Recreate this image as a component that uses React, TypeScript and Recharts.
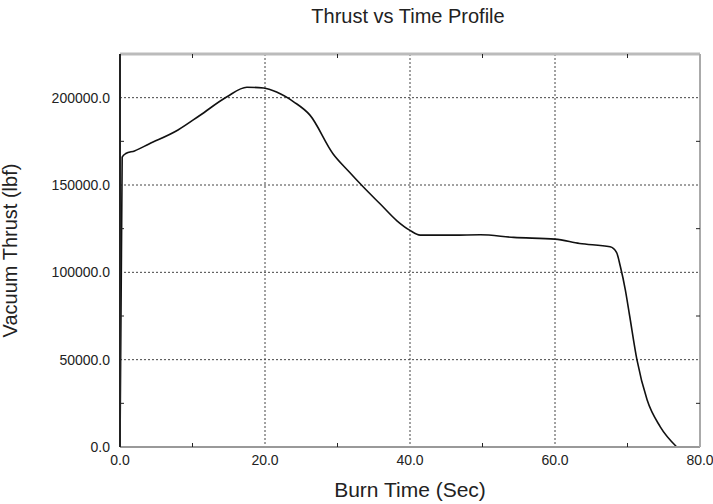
import React from 'react';
import { LineChart, Line, XAxis, YAxis, CartesianGrid, Label } from 'recharts';

const burnTime = [0, 0.3, 0.8, 2, 4, 8, 11, 14.7, 17.5, 19.8, 21.6, 24, 26.2, 29.4, 31.5, 33.6, 35.9, 38.2, 40, 41.4, 46, 49.7, 54.3, 60, 63.4, 67.6, 68.5, 69, 69.7, 70.3, 71.3, 72.7, 74.5, 76.8];
const thrust = [0, 166000, 168000, 169500, 173500, 181500, 189800, 200400, 206000, 205500, 203200, 197500, 190000, 167800, 158000, 148700, 139100, 129500, 124000, 121300, 121300, 121500, 120000, 119000, 116500, 114600, 111300, 103600, 90000, 75000, 50000, 27000, 11700, 0];

const xMajorTicks = [0, 20, 40, 60, 80];
const xMinorTicks = [10, 30, 50, 70];
const yMajorTicks = [0, 50000, 100000, 150000, 200000];
const yMinorTicks = [25000, 75000, 125000, 175000];

const title = 'Thrust vs Time Profile';
const xLabel = 'Burn Time (Sec)';
const yLabel = 'Vacuum Thrust (lbf)';

const data = burnTime.map((t, i) => ({ t, v: thrust[i] }));

const FONT = '"Liberation Sans", Arial, sans-serif';
const blank = () => '';

export default function App() {
  return (
    <div style={{ position: 'absolute', left: 0, top: 0, width: 713, height: 504, background: '#fff', fontFamily: FONT }}>
      <div style={{ position: 'absolute', top: 5, left: 0, width: 816, textAlign: 'center', fontSize: 20, color: '#222' }}>{title}</div>
      <LineChart width={713} height={504} data={data} margin={{ top: 54, right: 13, bottom: 27, left: 0 }}>
        <CartesianGrid stroke="#444" strokeDasharray="2 2" strokeWidth={1} />
        <XAxis
          dataKey="t"
          type="number"
          domain={[0, 80]}
          ticks={xMajorTicks}
          tickFormatter={(v: number) => v.toFixed(1)}
          tickLine={false}
          axisLine={{ stroke: '#999', strokeWidth: 2 }}
          tick={{ fontSize: 14, fill: '#222', fontFamily: FONT }}
          height={30}
        >
          <Label value={xLabel} position="insideBottom" offset={-20} style={{ fontSize: 21, fill: '#222', fontFamily: FONT }} />
        </XAxis>
        <XAxis xAxisId="minorB" dataKey="t" type="number" domain={[0, 80]} ticks={xMinorTicks} mirror tickSize={4} tickFormatter={blank} axisLine={false} tickLine={{ stroke: '#222' }} height={1} />
        <XAxis xAxisId="top" orientation="top" dataKey="t" type="number" domain={[0, 80]} ticks={xMinorTicks} mirror tickSize={4} tickFormatter={blank} axisLine={{ stroke: '#bbb', strokeWidth: 3 }} tickLine={{ stroke: '#222' }} height={1} />
        <YAxis
          type="number"
          domain={[0, 225000]}
          ticks={yMajorTicks}
          tickFormatter={(v: number) => v.toFixed(1)}
          tickLine={false}
          tickSize={6}
          tickMargin={4}
          axisLine={{ stroke: '#222', strokeWidth: 2 }}
          tick={{ fontSize: 14, fill: '#222', fontFamily: FONT }}
          width={120}
        >
          <Label value={yLabel} angle={-90} position="insideLeft" offset={10} style={{ fontSize: 20, fill: '#222', fontFamily: FONT, textAnchor: 'middle' }} />
        </YAxis>
        <YAxis yAxisId="minorL" type="number" domain={[0, 225000]} ticks={yMinorTicks} mirror tickSize={4} tickFormatter={blank} axisLine={false} tickLine={{ stroke: '#222' }} width={1} />
        <YAxis yAxisId="right" orientation="right" type="number" domain={[0, 225000]} ticks={yMinorTicks} mirror tickSize={4} tickFormatter={blank} axisLine={{ stroke: '#aaa', strokeWidth: 2 }} tickLine={{ stroke: '#222' }} width={1} />
        <Line xAxisId="minorB" yAxisId="minorL" dataKey="v" stroke="none" dot={false} legendType="none" isAnimationActive={false} />
        <Line xAxisId="top" yAxisId="right" dataKey="v" stroke="none" dot={false} legendType="none" isAnimationActive={false} />
        <Line type="monotone" dataKey="v" stroke="#111" strokeWidth={1.6} dot={false} isAnimationActive={false} />
      </LineChart>
    </div>
  );
}
